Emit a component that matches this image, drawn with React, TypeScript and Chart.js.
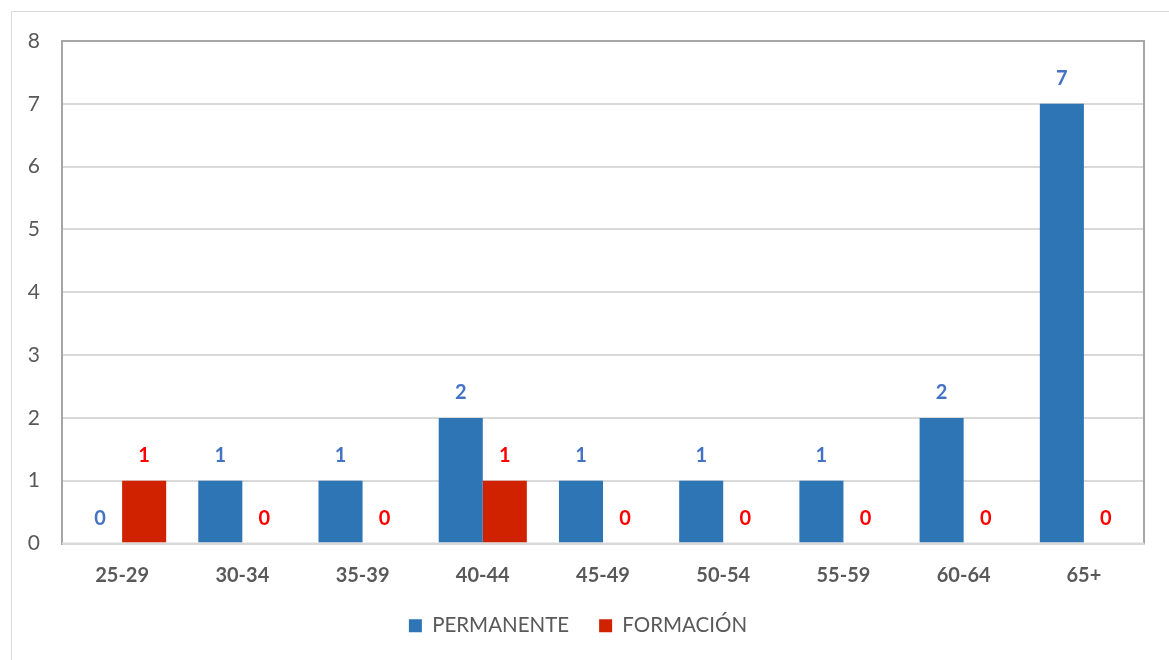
import React, { useEffect, useRef } from "react";
import { Chart, registerables } from "chart.js";

Chart.register(...registerables);

const categories = ["25-29", "30-34", "35-39", "40-44", "45-49", "50-54", "55-59", "60-64", "65+"];
const permanente = [0, 1, 1, 2, 1, 1, 1, 2, 7];
const formacion = [1, 0, 0, 1, 0, 0, 0, 0, 0];
const yTicks = [0, 1, 2, 3, 4, 5, 6, 7, 8];

const FONT = "Lato, 'Liberation Sans', sans-serif";
const labelColors = ["#4472c4", "#ff0000"];

const framePlugin = {
  id: "frame",
  beforeDraw(chart: any) {
    const ctx = chart.ctx;
    ctx.save();
    ctx.strokeStyle = "#d9d9d9";
    ctx.lineWidth = 1;
    ctx.beginPath();
    ctx.moveTo(11.5, 660);
    ctx.lineTo(11.5, 11.5);
    ctx.lineTo(1169, 11.5);
    ctx.stroke();
    ctx.restore();
  },
  afterDatasetsDraw(chart: any) {
    const ctx = chart.ctx;
    const a = chart.chartArea;
    ctx.save();
    ctx.strokeStyle = "#a6a6a6";
    ctx.lineWidth = 2;
    ctx.beginPath();
    ctx.moveTo(a.left, a.bottom);
    ctx.lineTo(a.left, a.top);
    ctx.lineTo(a.right, a.top);
    ctx.lineTo(a.right, a.bottom);
    ctx.stroke();
    ctx.strokeStyle = "#d9d9d9";
    ctx.beginPath();
    ctx.moveTo(a.left, a.bottom);
    ctx.lineTo(a.right, a.bottom);
    ctx.stroke();
    // data labels
    ctx.font = `bold 20px ${FONT}`;
    ctx.textAlign = "center";
    ctx.textBaseline = "middle";
    chart.data.datasets.forEach((ds: any, i: number) => {
      const meta = chart.getDatasetMeta(i);
      ctx.fillStyle = labelColors[i];
      meta.data.forEach((bar: any, j: number) => {
        ctx.fillText(String(ds.data[j]), bar.x, bar.y - 25);
      });
    });
    ctx.restore();
  },
};

export default function App() {
  const ref = useRef<HTMLCanvasElement | null>(null);
  useEffect(() => {
    document.body.style.margin = "0";
    const chart = new Chart(ref.current!, {
      type: "bar",
      data: {
        labels: categories,
        datasets: [
          { label: "PERMANENTE", data: permanente, backgroundColor: "#2e75b6", borderWidth: 0 },
          { label: "FORMACIÓN", data: formacion, backgroundColor: "#d12200", borderWidth: 0 },
        ],
      },
      options: {
        animation: false,
        responsive: false,
        layout: { padding: { left: 12, right: 25, top: 41, bottom: 14 } },
        plugins: {
          tooltip: { enabled: false },
          legend: {
            position: "bottom",
            labels: {
              font: { family: FONT, size: 20.5 },
              color: "#595959",
              boxWidth: 13,
              boxHeight: 13,
              padding: 30,
            },
          },
        },
        datasets: { bar: { categoryPercentage: 0.733, barPercentage: 1 } },
        scales: {
          x: {
            grid: { display: false, drawTicks: false },
            border: { display: true, color: "#d9d9d9", width: 2 },
            ticks: { font: { family: FONT, size: 20, weight: "bold" }, color: "#595959", padding: 20 },
            afterFit: (s: any) => { s.height = 42; },
          },
          y: {
            min: 0,
            max: 8,
            afterBuildTicks: (s: any) => { s.ticks = yTicks.map((v) => ({ value: v })); },
            grid: { color: "#d9d9d9", lineWidth: 2, drawTicks: false },
            border: { display: true, color: "#a6a6a6", width: 2 },
            ticks: { font: { family: FONT, size: 21 }, color: "#595959", padding: 22, stepSize: 1 },
            afterFit: (s: any) => { s.width = 50; },
          },
        },
      },
      plugins: [framePlugin],
    } as any);
    return () => chart.destroy();
  }, []);
  return (
    <div style={{ position: "relative", width: 1169, height: 660 }}>
      <canvas ref={ref} width={1169} height={660} style={{ display: "block" }} />
    </div>
  );
}
